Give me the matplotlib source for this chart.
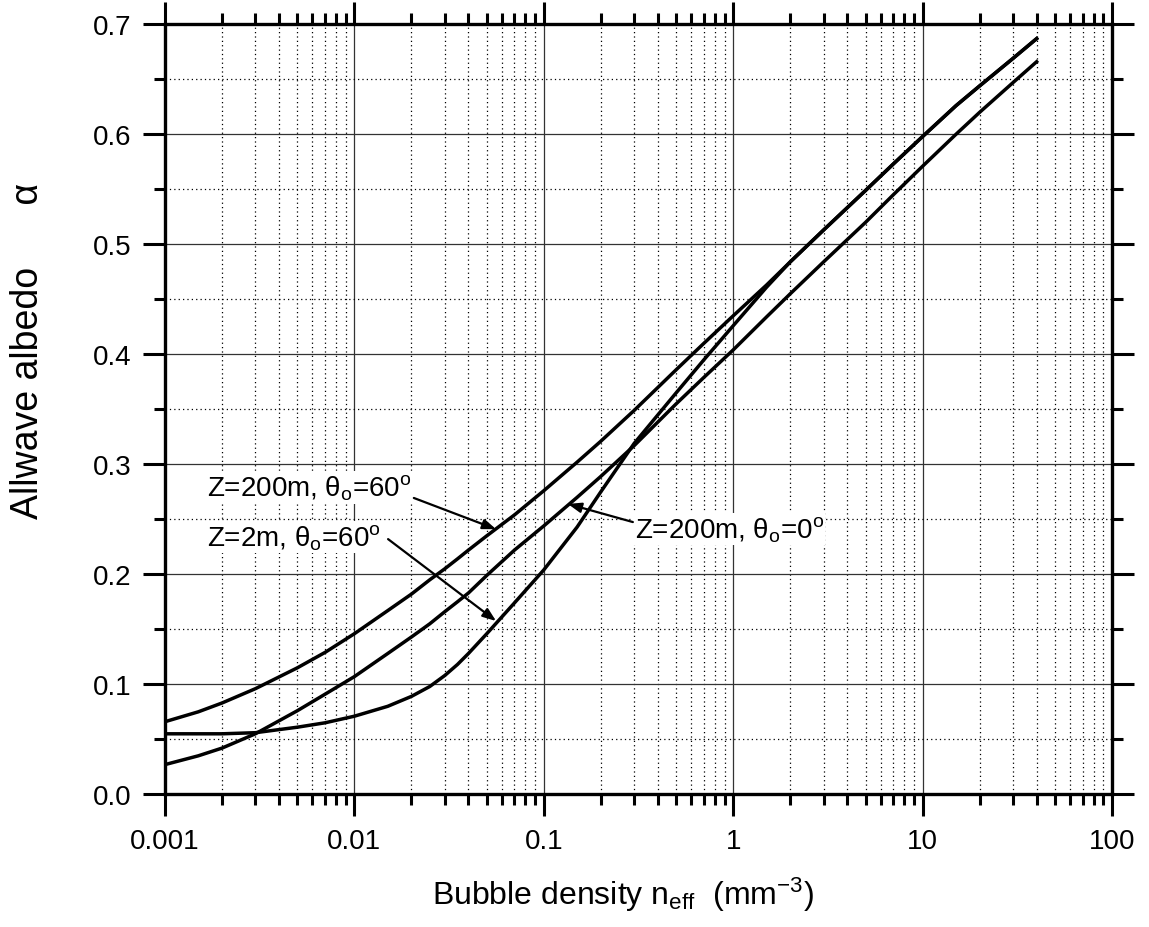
import numpy as np
import matplotlib
matplotlib.use("Agg")
import matplotlib.pyplot as plt
from matplotlib.ticker import LogLocator, MultipleLocator, FixedLocator, NullFormatter

plt.rcParams['font.family'] = ['Liberation Sans', 'DejaVu Sans']
plt.rcParams['mathtext.fontset'] = 'custom'
plt.rcParams['mathtext.rm'] = 'Liberation Sans'
plt.rcParams['mathtext.it'] = 'Liberation Sans:italic'

# bubble density (mm^-3)
n = [0.001, 0.0015, 0.002, 0.003, 0.005, 0.007, 0.01, 0.015, 0.02, 0.025, 0.03,
     0.035, 0.04, 0.05, 0.07, 0.1, 0.15, 0.2, 0.3, 0.5, 0.7, 1, 1.5, 2, 3, 5,
     7, 10, 15, 20, 30, 40]

# Z=200m, theta=60
alb_200_60 = [0.066, 0.075, 0.083, 0.096, 0.115, 0.129, 0.146, 0.167, 0.182, 0.195,
              0.205, 0.214, 0.222, 0.235, 0.254, 0.276, 0.302, 0.321, 0.349, 0.386,
              0.410, 0.435, 0.463, 0.484, 0.513, 0.549, 0.573, 0.598, 0.626, 0.644,
              0.669, 0.687]
# Z=200m, theta=0
alb_200_0 = [0.027, 0.035, 0.042, 0.055, 0.076, 0.091, 0.107, 0.128, 0.143, 0.155,
             0.166, 0.175, 0.183, 0.199, 0.222, 0.244, 0.270, 0.289, 0.317, 0.355,
             0.379, 0.404, 0.434, 0.455, 0.484, 0.520, 0.545, 0.571, 0.600, 0.620,
             0.647, 0.666]
# Z=2m, theta=60
alb_2_60 = [0.055, 0.055, 0.055, 0.056, 0.061, 0.065, 0.071, 0.080, 0.089, 0.098,
            0.108, 0.118, 0.128, 0.146, 0.174, 0.204, 0.243, 0.275, 0.319, 0.365,
            0.395, 0.426, 0.461, 0.484, 0.513, 0.549, 0.573, 0.598, 0.626, 0.644,
            0.669, 0.687]

fig = plt.figure(figsize=(11.49, 9.28), dpi=100)
ax = fig.add_axes([0.1436, 0.143, 0.9678 - 0.1436, 0.9727 - 0.143])

lw = 2.5
ax.plot(n, alb_200_60, color='black', lw=lw, zorder=3)
ax.plot(n, alb_200_0, color='black', lw=lw, zorder=3)
ax.plot(n, alb_2_60, color='black', lw=lw, zorder=3)

ax.set_xscale('log')
ax.set_xlim(0.001, 100)
ax.set_ylim(0.0, 0.7)

ax.xaxis.set_major_locator(FixedLocator([0.001, 0.01, 0.1, 1, 10, 100]))
ax.set_xticklabels(['0.001', '0.01', '0.1', '1', '10', '100'])
ax.xaxis.set_minor_locator(LogLocator(base=10, subs=np.arange(2, 10)))
ax.xaxis.set_minor_formatter(NullFormatter())
ax.yaxis.set_major_locator(MultipleLocator(0.1))
ax.yaxis.set_minor_locator(MultipleLocator(0.05))
ax.yaxis.set_major_formatter(plt.FuncFormatter(lambda v, p: '%.1f' % v))

ax.grid(which='major', color='#333333', lw=0.9, ls='-')
ax.grid(which='minor', color='black', lw=0.9, ls=(0, (1, 2.5)))
ax.set_axisbelow(True)

for s in ax.spines.values():
    s.set_linewidth(2.4)

ax.tick_params(which='both', direction='out', width=2.2, labelsize=20,
               top=True, right=True, bottom=True, left=True)
ax.tick_params(which='major', length=16, pad=8)
ax.tick_params(which='minor', length=8)

# axis titles
fig.text(623 / 1149, 1 - 905 / 928, 'Bubble density n$_{\\rm eff}$  (mm$^{-3}$)',
         fontsize=23, ha='center', va='baseline')
fig.text(28 / 1149, 1 - 351 / 928, 'Allwave albedo      α', fontsize=27,
         rotation=90, ha='center', va='center')

box = dict(facecolor='white', edgecolor='none', pad=1)
arrow = dict(arrowstyle='-|>,head_length=0.8,head_width=0.3', color='black',
             lw=1.6, shrinkA=0, shrinkB=0)

ax.text(0.00167, 0.279, 'Z=200m, θ$_{\\rm o}$=60$^{\\rm o}$', fontsize=20,
        va='center', ha='left', bbox=box, zorder=4)
ax.annotate('', xy=(0.056, 0.241), xytext=(0.0206, 0.2694), arrowprops=arrow, zorder=5)

ax.text(0.00167, 0.234, 'Z=2m, θ$_{\\rm o}$=60$^{\\rm o}$', fontsize=20,
        va='center', ha='left', bbox=box, zorder=4)
ax.annotate('', xy=(0.056, 0.1575), xytext=(0.01506, 0.232), arrowprops=arrow, zorder=5)

ax.text(0.302, 0.241, 'Z=200m, θ$_{\\rm o}$=0$^{\\rm o}$', fontsize=20,
        va='center', ha='left', bbox=box, zorder=4)
ax.annotate('', xy=(0.134, 0.264), xytext=(0.2953, 0.2475), arrowprops=arrow, zorder=5)

fig.savefig('out.png', dpi=100)
